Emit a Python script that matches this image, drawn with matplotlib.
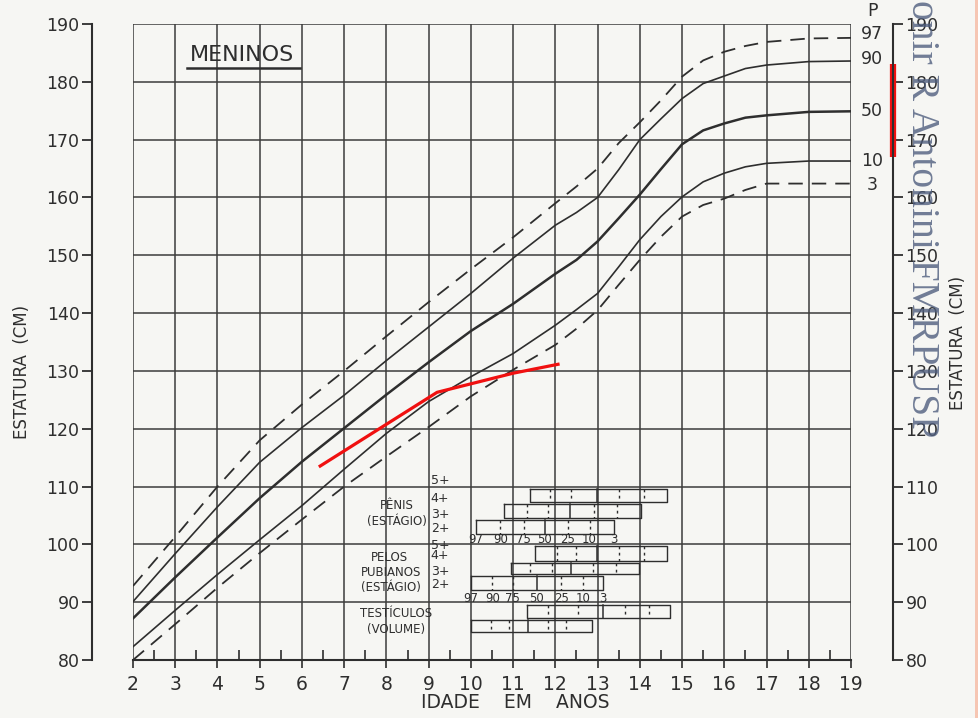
import matplotlib.pyplot as plt
from matplotlib.patches import Rectangle

# percentile curves, height in cm by age in years
ages = [2, 3, 4, 5, 6, 7, 8, 9, 10, 11, 12, 12.5, 13, 13.5, 14, 14.5, 15, 15.5, 16, 16.5, 17, 18, 19]
p97 = [92.8, 101.3, 110.0, 118.0, 124.2, 130.0, 136.0, 141.9, 147.6, 153.1, 159.0, 161.9, 165.0, 169.4,
       173.0, 176.8, 180.9, 183.7, 185.2, 186.2, 186.9, 187.5, 187.6]
p90 = [90.1, 98.4, 106.5, 114.2, 120.2, 125.8, 131.8, 137.6, 143.4, 149.5, 155.2, 157.4, 160.0, 164.8,
       170.0, 173.6, 177.1, 179.7, 181.0, 182.3, 182.9, 183.5, 183.6]
p50 = [87.2, 94.3, 101.2, 108.0, 114.3, 120.1, 125.9, 131.5, 136.9, 141.6, 146.8, 149.2, 152.4, 156.4,
       160.5, 164.9, 169.2, 171.6, 172.8, 173.8, 174.2, 174.8, 174.9]
p10 = [82.3, 88.6, 94.8, 100.8, 106.7, 113.0, 119.2, 124.7, 129.0, 133.0, 137.9, 140.6, 143.4, 148.0,
       152.7, 156.7, 160.1, 162.7, 164.2, 165.3, 165.9, 166.3, 166.3]
p3 = [80.0, 86.2, 92.5, 98.5, 104.3, 110.0, 115.2, 120.3, 125.6, 130.2, 134.5, 137.3, 140.5, 144.9,
      149.2, 153.2, 156.7, 158.7, 159.8, 161.3, 162.4, 162.4, 162.4]

# patient measurements (red)
pac_idade = [6.4, 9.2, 11.0, 12.1]
pac_altura = [113.4, 126.3, 129.6, 131.2]
alvo = [167, 183]   # target range marked on the right axis

# puberty bars: ages at percentiles 97 90 75 50 25 10 3
pct_labels = ['97', '90', '75', '50', '25', '10', '3']
penis_5 = [11.40, 11.87, 12.38, 12.99, 13.51, 14.09, 14.64]
penis_4 = [10.78, 11.33, 11.83, 12.34, 12.92, 13.47, 14.03]
penis_3 = [10.12, 10.70, 11.25, 11.75, 12.30, 12.81, 13.39]
pelos_5 = [11.52, 12.03, 12.50, 12.99, 13.51, 14.09, 14.64]
pelos_4 = [10.94, 11.40, 11.91, 12.38, 12.89, 13.43, 13.98]
pelos_3 = [10.00, 10.51, 10.99, 11.56, 12.14, 12.65, 13.12]
testic_a = [11.33, 11.83, 12.53, 13.13, 13.66, 14.21, 14.72]
testic_b = [10.00, 10.47, 10.90, 11.35, 11.83, 12.26, 12.86]

bg = '#f6f6f3'
ink = '#2e2e2e'

fig = plt.figure(figsize=(9.79, 7.18), dpi=100)
fig.patch.set_facecolor(bg)
ax = fig.add_axes([133/979, 58/718, 718/979, 636/718])
ax.set_facecolor(bg)
ax.set_xlim(2, 19)
ax.set_ylim(80, 190)

ax.set_xticks(range(2, 20))
ax.set_xticks([a + 0.5 for a in range(2, 19)], minor=True)
ax.set_yticks(range(80, 191, 10))
ax.grid(True, which='major', color='#3c3c3c', linewidth=1.1)
ax.set_axisbelow(True)

ax.spines['top'].set_visible(False)
ax.spines['left'].set_position(('outward', 29.5))
ax.spines['right'].set_position(('outward', 30.2))
for s in ['left', 'right', 'bottom']:
    ax.spines[s].set_color(ink)
    ax.spines[s].set_linewidth(1.5)

ax.yaxis.set_ticks_position('both')
ax.tick_params(axis='y', which='major', direction='out', length=7, width=1.3, colors=ink,
               labelleft=True, labelright=True, labelsize=12.5, pad=2)
ax.tick_params(axis='x', which='major', direction='out', length=6, width=1.2, colors=ink,
               labelsize=13.5, pad=5)
ax.tick_params(axis='x', which='minor', direction='in', length=7, width=1.2, colors=ink)

# curves
ax.plot(ages, p97, color=ink, lw=1.3, dashes=(8, 5))
ax.plot(ages, p90, color=ink, lw=1.2)
ax.plot(ages, p50, color=ink, lw=1.8)
ax.plot(ages, p10, color=ink, lw=1.2)
ax.plot(ages, p3, color=ink, lw=1.3, dashes=(8, 5))

for lab, yv in [('P', 192.2), ('97', p97[-1] + 0.6), ('90', p90[-1] + 0.4), ('50', p50[-1]),
                ('10', p10[-1]), ('3', p3[-1] - 0.3)]:
    ax.text(19.5, yv, lab, ha='center', va='center', fontsize=12.5, color=ink, clip_on=False)

# patient
ax.plot(pac_idade, pac_altura, color='#f01010', lw=2.3, solid_capstyle='butt')
ax.plot([20.0, 20.0], alvo, color='#f01010', lw=4.5, clip_on=False, solid_capstyle='butt')

# title
ax.text(4.58, 184.6, 'MENINOS', ha='center', va='center', fontsize=16, color=ink)
ax.plot([3.28, 5.95], [182.4, 182.4], color=ink, lw=1.8)

# puberty bars
def barra(idades, topo, base):
    ax.plot([idades[0], idades[-1], idades[-1], idades[0], idades[0]],
            [topo, topo, base, base, topo], color=ink, lw=1.0)
    for i, a in enumerate(idades[1:-1]):
        if i == 2:
            ax.plot([a, a], [topo, base], color=ink, lw=1.1)
        else:
            ax.plot([a, a], [topo, base], color=ink, lw=1.0, dashes=(2, 2.5))

barra(penis_5, 109.5, 107.3)
barra(penis_4, 106.9, 104.6)
barra(penis_3, 104.2, 101.8)
barra(pelos_5, 99.7, 97.2)
barra(pelos_4, 96.7, 94.9)
barra(pelos_3, 94.5, 92.1)
barra(testic_a, 89.5, 87.3)
barra(testic_b, 87.0, 84.9)

for lab, a in zip(pct_labels, penis_3):
    ax.text(a, 100.8, lab, ha='center', va='center', fontsize=8.5, color=ink)
for lab, a in zip(pct_labels, pelos_3):
    ax.text(a, 90.7, lab, ha='center', va='center', fontsize=8.5, color=ink)

for lab, yv in [('5+', 111.0), ('4+', 107.9), ('3+', 105.2), ('2+', 102.8),
                ('5+', 99.8), ('4+', 98.0), ('3+', 95.3), ('2+', 93.1)]:
    ax.text(9.05, yv, lab, ha='left', va='center', fontsize=9, color=ink)

for txt, xv, yv in [('PÊNIS', 8.24, 106.8), ('(ESTÁGIO)', 8.24, 103.9),
                    ('PELOS', 8.08, 97.7), ('PUBIANOS', 8.12, 95.1), ('(ESTÁGIO)', 8.1, 92.6),
                    ('TESTÍCULOS', 8.24, 88.0), ('(VOLUME)', 8.24, 85.2)]:
    ax.text(xv, yv, txt, ha='center', va='center', fontsize=8.5, color=ink)

# axis titles
fig.text(515/979, 1 - 703/718, 'IDADE    EM    ANOS', ha='center', va='center', fontsize=13.5, color=ink)
fig.text(22/979, 1 - 372/718, 'ESTATURA  (CM)', rotation=90, ha='center', va='center',
         fontsize=12, color=ink)
fig.text(958/979, 1 - 343/718, 'ESTATURA  (CM)', rotation=90, ha='center', va='center',
         fontsize=12, color=ink)

# watermark and scan edge
fig.text(922/979, 1.0, 'onir R Antonini FMRPUSP', rotation=-90, ha='center', va='top',
         family='Liberation Serif', fontsize=28.5, color='#4f5e7e', alpha=0.8)
fig.patches.append(Rectangle((975/979, 0), 4/979, 1, transform=fig.transFigure,
                             facecolor='#f6c6b3', edgecolor='none'))

fig.savefig('out.png', dpi=100, facecolor=bg)
